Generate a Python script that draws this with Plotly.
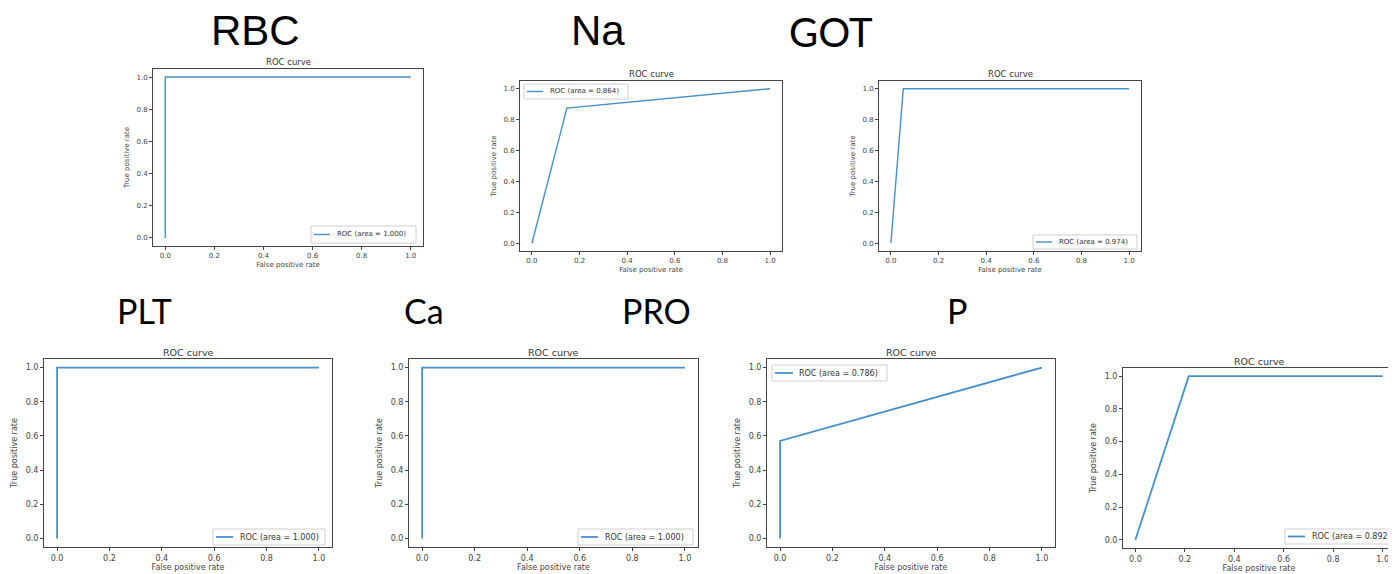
import plotly.graph_objects as go

# The page places the figure 8px from the top-left corner, so figure coords = page coords - 8
OFF = 8
W, H = 1396 - OFF, 574 - OFF

# ---- data ----
fpr_rbc = [0.0, 0.0, 1.0]
tpr_rbc = [0.0, 1.0, 1.0]
fpr_na = [0.0, 0.147, 1.0]
tpr_na = [0.0, 0.875, 1.0]
fpr_got = [0.0, 0.052, 1.0]
tpr_got = [0.0, 1.0, 1.0]
fpr_plt = [0.0, 0.0, 1.0]
tpr_plt = [0.0, 1.0, 1.0]
fpr_ca = [0.0, 0.0, 1.0]
tpr_ca = [0.0, 1.0, 1.0]
fpr_p = [0.0, 0.0, 1.0]
tpr_p = [0.0, 0.571, 1.0]
fpr_x = [0.0, 0.216, 1.0]
tpr_x = [0.0, 1.0, 1.0]
legend_labels = ["ROC (area = 1.000)", "ROC (area = 0.864)", "ROC (area = 0.974)",
                 "ROC (area = 1.000)", "ROC (area = 1.000)", "ROC (area = 0.786)",
                 "ROC (area = 0.892)"]
ticks = [0.0, 0.2, 0.4, 0.6, 0.8, 1.0]
tick_text = ["0.0", "0.2", "0.4", "0.6", "0.8", "1.0"]
big_labels = ["RBC", "Na", "GOT", "PLT", "Ca", "PRO", "P"]

fprs = [fpr_rbc, fpr_na, fpr_got, fpr_plt, fpr_ca, fpr_p, fpr_x]
tprs = [tpr_rbc, tpr_na, tpr_got, tpr_plt, tpr_ca, tpr_p, tpr_x]


def px(x):
    return (x - OFF) / W


def py(y):
    return 1 - (y - OFF) / H


# ---- layout geometry (page pixels: left, right, top, bottom) ----
boxes = [
    (153, 423, 69, 246),
    (520, 782, 81, 251),
    (879, 1141, 81, 251),
    (44, 332, 359, 547),
    (409, 698, 359, 547),
    (767, 1055, 359, 547),
    (1123, 1395, 368, 548),
]
# legend boxes (page px): left, right, top, bottom, line_x0, line_x1, text_x
legboxes = [
    (311, 416, 226, 243, 314, 330, 335),
    (524, 628, 84, 99, 527, 543, 548),
    (1033, 1137, 235, 249, 1036, 1052, 1057),
    (213, 325, 529, 545, 216, 233, 238),
    (578, 693, 529, 545, 581, 598, 603),
    (772, 887, 365, 381, 775, 793, 797),
    (1285, 1394, 529, 544, 1288, 1305, 1310),
]
small = [True, True, True, False, False, False, False]

LINE = "#4690cd"
AXC = "#444444"
fig = go.Figure()
layout = dict(
    width=W, height=H, margin=dict(l=0, r=0, t=0, b=0),
    paper_bgcolor="white", plot_bgcolor="white",
    showlegend=False,
)
annotations = []
shapes = []

for i in range(7):
    k = "" if i == 0 else str(i + 1)
    l, r, t, b = boxes[i]
    fs = 7 if small[i] else 8
    lw = 1.4 if small[i] else 1.8
    fig.add_trace(go.Scatter(
        x=fprs[i], y=tprs[i], mode="lines",
        line=dict(color=LINE, width=lw),
        name=legend_labels[i],
        xaxis="x" + k, yaxis="y" + k,
    ))
    axcommon = dict(
        showgrid=False, zeroline=False, showline=True, mirror=True,
        linecolor=AXC, linewidth=1, ticks="outside", ticklen=3,
        tickcolor=AXC, tickvals=ticks, ticktext=tick_text,
        tickfont=dict(family="DejaVu Sans", size=fs, color=AXC),
        range=[-0.05, 1.05], fixedrange=True,
    )
    layout["xaxis" + k] = dict(
        axcommon, domain=[px(l), px(r)], anchor="y" + k,
        title=dict(text="False positive rate", standoff=2,
                   font=dict(family="DejaVu Sans", size=fs, color=AXC)),
    )
    layout["yaxis" + k] = dict(
        axcommon, domain=[py(b), py(t)], anchor="x" + k,
        title=dict(text="True positive rate", standoff=6,
                   font=dict(family="DejaVu Sans", size=fs, color=AXC)),
    )
    annotations.append(dict(
        text="ROC curve", x=px((l + r) / 2), y=py(t - 7),
        xref="paper", yref="paper", xanchor="center", yanchor="middle",
        showarrow=False,
        font=dict(family="DejaVu Sans", size=8.5 if small[i] else 9.5, color="#333"),
    ))
    # legend (drawn box, handle line and real text)
    L, R, T, B, lx0, lx1, tx = legboxes[i]
    shapes.append(dict(type="rect", xref="paper", yref="paper",
                       x0=px(L), x1=px(R), y0=py(B), y1=py(T),
                       line=dict(color="#cfcfcf", width=1), fillcolor="white",
                       layer="above"))
    ym = (T + B) / 2
    shapes.append(dict(type="line", xref="paper", yref="paper",
                       x0=px(lx0), x1=px(lx1), y0=py(ym), y1=py(ym),
                       line=dict(color=LINE, width=lw),
                       layer="above"))
    annotations.append(dict(
        text=legend_labels[i], x=px(tx), y=py(ym), xref="paper", yref="paper",
        xanchor="left", yanchor="middle", showarrow=False,
        font=dict(family="DejaVu Sans", size=fs, color="#333"),
    ))

# big labels (page x px, page y px, font family, size)
big_pos = [
    (255, 30, "Liberation Sans", 42),
    (598, 30, "Liberation Sans", 42),
    (831, 32, "Lato", 40),
    (144, 310, "Lato", 34),
    (424, 310, "Lato", 34),
    (656, 310, "Lato", 34),
    (957, 310, "Lato", 34),
]
for txt, (x, y, fam, sz) in zip(big_labels, big_pos):
    annotations.append(dict(
        text=txt, x=px(x), y=py(y), xref="paper", yref="paper",
        xanchor="center", yanchor="middle", showarrow=False,
        font=dict(family=fam, size=sz, color="black"),
    ))

layout["annotations"] = annotations
layout["shapes"] = shapes
fig.update_layout(**layout)
fig.write_html("out.html")
